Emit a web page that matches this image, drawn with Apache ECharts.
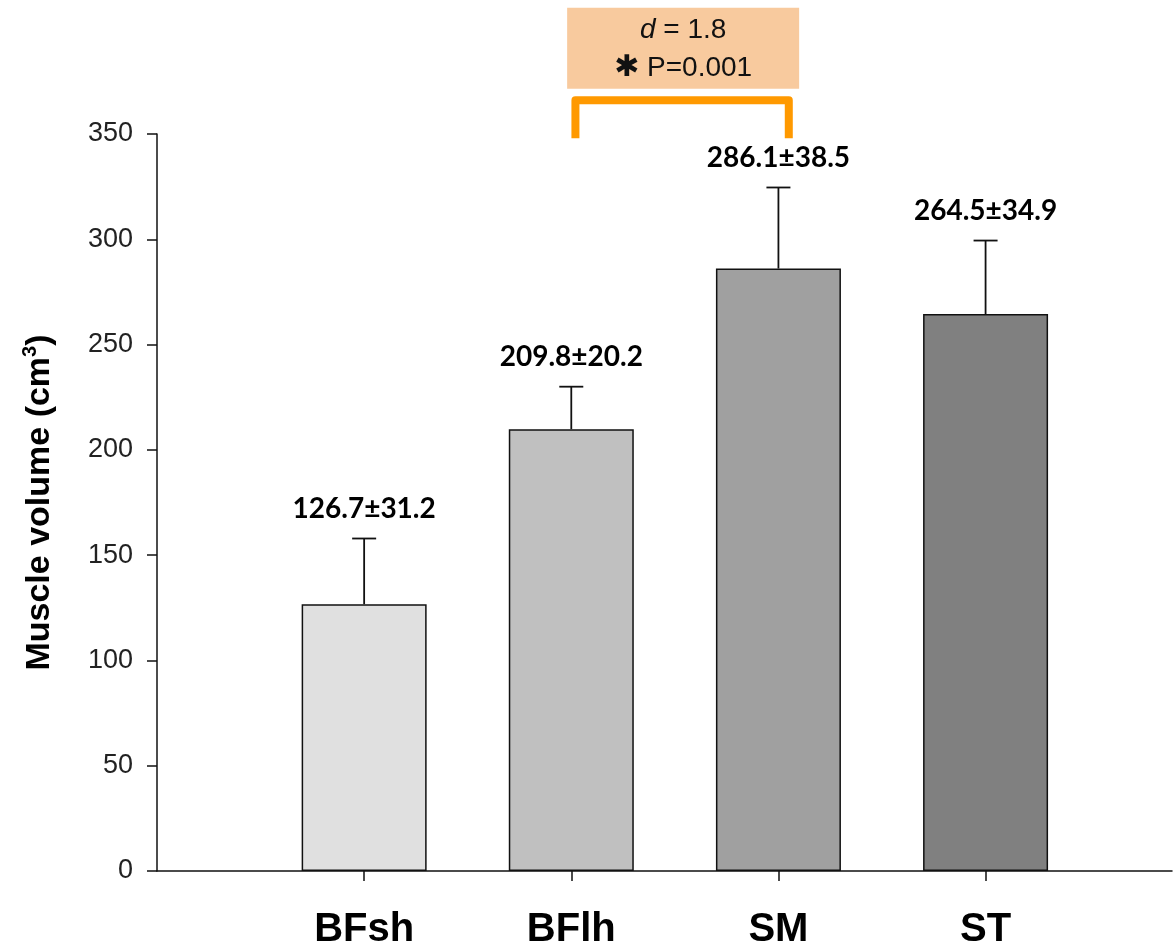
<!DOCTYPE html>
<html><head><meta charset="utf-8">
<script src="https://cdn.jsdelivr.net/npm/echarts@6/dist/echarts.min.js"></script>
<style>html,body{margin:0;padding:0;background:#fff}#c{width:1174px;height:950px}</style>
</head><body><div id="c"></div>
<script>
const categories = ['BFsh', 'BFlh', 'SM', 'ST'];
const means = [126.7, 209.8, 286.1, 264.5];
const sds = [31.2, 20.2, 38.5, 34.9];
const barColors = ['#e0e0e0', '#c0c0c0', '#a0a0a0', '#808080'];
const yTickValues = [0, 50, 100, 150, 200, 250, 300, 350];
const effectSize = '1.8';
const pValue = '0.001';

const idx = categories.map((c, i) => i);
const barData = idx.map(i => ({ value: [i, means[i]], itemStyle: { color: barColors[i] } }));
const errData = idx.map(i => [i, means[i], sds[i]]);

const chart = echarts.init(document.getElementById('c'), null, { renderer: 'canvas' });
chart.setOption({
  animation: false,
  backgroundColor: '#ffffff',
  grid: { left: 157, top: 134, right: 2, bottom: 72, containLabel: false },
  xAxis: {
    type: 'value', min: -1, max: 3.9,
    splitLine: { show: false },
    axisLine: { show: true, onZero: false, lineStyle: { color: '#111', width: 1.5 } },
    axisTick: { show: true, length: 10, lineStyle: { color: '#111', width: 1.5 }, customValues: idx },
    axisLabel: {
      customValues: idx, margin: 39,
      formatter: v => categories[Math.round(v)] || '',
      fontFamily: 'Liberation Sans', fontWeight: 'bold', fontSize: 40, color: '#000'
    }
  },
  yAxis: {
    type: 'value', min: 0, max: 350, interval: 50,
    splitLine: { show: false },
    axisLine: { show: true, onZero: false, lineStyle: { color: '#111', width: 1.5 } },
    axisTick: { show: true, length: 10, lineStyle: { color: '#111', width: 1.5 } },
    axisLabel: { customValues: yTickValues, margin: 24, fontFamily: 'Liberation Sans', fontSize: 27, color: '#222' },
    name: 'Muscle volume (cm{sup|3})',
    nameLocation: 'middle', nameGap: 97, nameRotate: 90,
    nameTextStyle: {
      fontFamily: 'Liberation Sans', fontWeight: 'bold', fontSize: 34, color: '#000',
      rich: { sup: { fontFamily: 'Liberation Sans', fontWeight: 'bold', fontSize: 20, verticalAlign: 'bottom', padding: [0, 0, 20, 0], color: '#000' } }
    }
  },
  series: [
    {
      type: 'bar', data: barData, barWidth: 125,
      itemStyle: { borderColor: '#111', borderWidth: 1.5 }, z: 2
    },
    {
      type: 'custom', data: errData, z: 3,
      renderItem: (params, api) => {
        const x = api.value(0), m = api.value(1), s = api.value(2);
        const p0 = api.coord([x, m]);
        const p1 = api.coord([x, m + s]);
        const st = { stroke: '#111', lineWidth: 1.8 };
        return {
          type: 'group', children: [
            { type: 'line', shape: { x1: p0[0], y1: p0[1], x2: p1[0], y2: p1[1] }, style: st },
            { type: 'line', shape: { x1: p1[0] - 12, y1: p1[1], x2: p1[0] + 12, y2: p1[1] }, style: st },
            { type: 'text', style: {
                text: m.toFixed(1) + '±' + s.toFixed(1), x: p1[0], y: p1[1] - 30,
                align: 'center', verticalAlign: 'middle',
                font: 'bold 28px Lato', fill: '#000' } }
          ]
        };
      }
    }
  ]
});

// Significance annotation between BFlh and SM
const P = (x, y) => chart.convertToPixel({ gridIndex: 0 }, [x, y]);
const bl = P(1.02, 348), bt = P(1.02, 366), br = P(2.05, 366), bb = P(2.05, 348);
const boxTL = P(0.98, 410), boxBR = P(2.1, 371.5);
const cx = (boxTL[0] + boxBR[0]) / 2;
chart.setOption({
  graphic: [
    { type: 'rect', shape: { x: boxTL[0], y: boxTL[1], width: boxBR[0] - boxTL[0], height: boxBR[1] - boxTL[1] },
      style: { fill: '#f8ca9e' }, z: 10 },
    { type: 'text', x: cx, y: boxTL[1] + 23, z: 11,
      style: { text: '{i|d} = ' + effectSize, align: 'center', verticalAlign: 'middle',
        font: '28px Liberation Sans', fill: '#111',
        rich: { i: { fontStyle: 'italic', fontFamily: 'Liberation Sans', fontSize: 28, fill: '#111' } } } },
    { type: 'text', x: cx, y: boxTL[1] + 61, z: 11,
      style: { text: '{a|✱} P=' + pValue, align: 'center', verticalAlign: 'middle',
        font: '28px Liberation Sans', fill: '#111',
        rich: { a: { fontFamily: 'DejaVu Sans', fontWeight: 'bold', fontSize: 30, fill: '#111' } } } },
    { type: 'polyline', z: 10,
      shape: { points: [bl, bt, br, bb] },
      style: { stroke: '#ff9900', lineWidth: 8, fill: null, lineJoin: 'round', lineCap: 'butt' } }
  ]
});
</script></body></html>
